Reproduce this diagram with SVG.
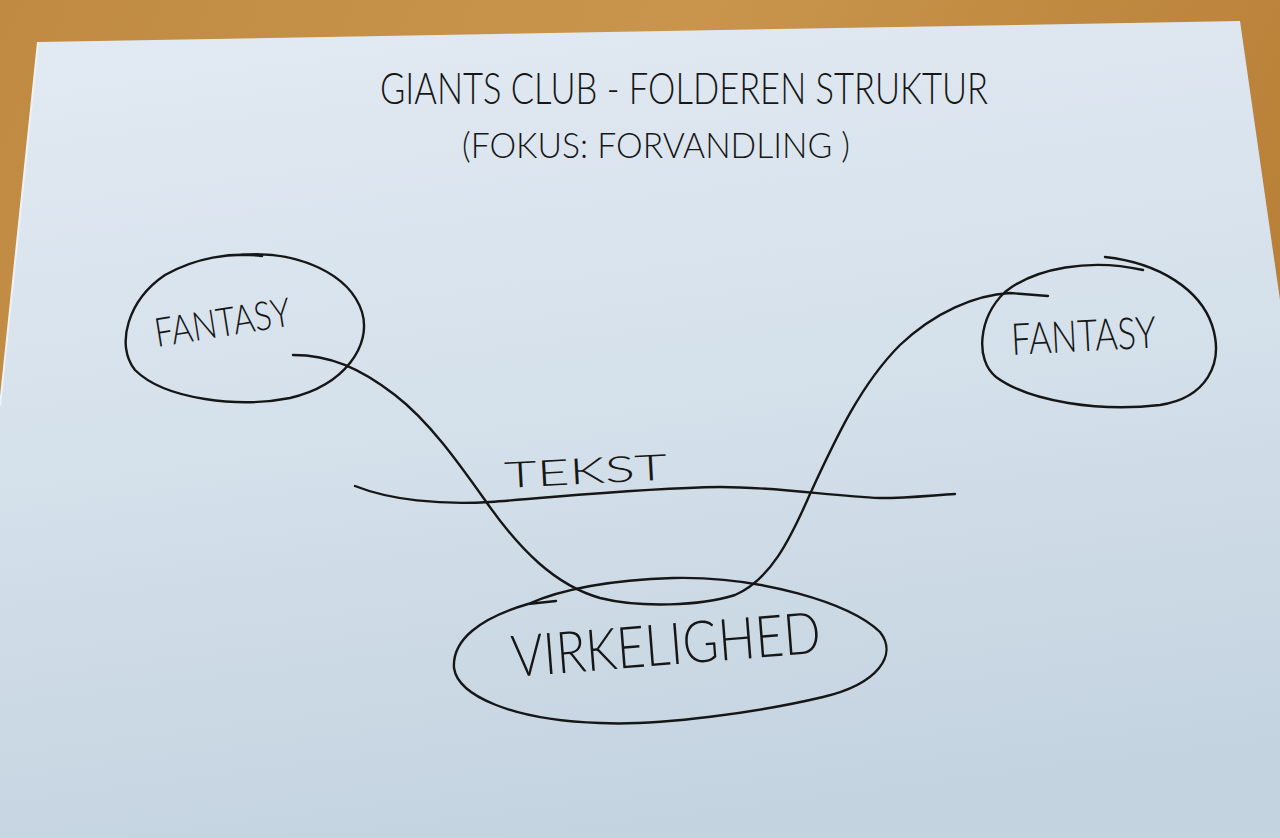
<svg xmlns="http://www.w3.org/2000/svg" width="1280" height="838" viewBox="0 0 1280 838">
<defs>
<linearGradient id="wood" x1="0" y1="0" x2="1" y2="0.3">
<stop offset="0" stop-color="#c08a42"/>
<stop offset="0.5" stop-color="#c9954c"/>
<stop offset="1" stop-color="#b98038"/>
</linearGradient>
<linearGradient id="paper" x1="0.3" y1="0" x2="0.5" y2="1">
<stop offset="0" stop-color="#e1e9f2"/>
<stop offset="0.5" stop-color="#d4e0ea"/>
<stop offset="1" stop-color="#c3d3e0"/>
</linearGradient>
<style>
.ink{fill:none;stroke:#161616;stroke-width:2.4;stroke-linecap:round;stroke-linejoin:round}
.hand{font-family:Lato,"Open Sans","DejaVu Sans",sans-serif;font-weight:300;fill:#161616}
</style>
</defs>
<rect x="0" y="0" width="1280" height="838" fill="url(#wood)"/>
<polygon points="38,42 1240,21 1280,300 1280,838 0,838 0,406" fill="url(#paper)"/>
<path d="M38 42 L0 406" stroke="#eef3f8" stroke-width="2" fill="none"/>

<g id="title">
<text class="hand" x="380" y="104" font-size="44" textLength="608" lengthAdjust="spacingAndGlyphs">GIANTS CLUB - FOLDEREN STRUKTUR</text>
<text class="hand" x="462" y="158" font-size="36" textLength="388" lengthAdjust="spacingAndGlyphs">(FOKUS: FORVANDLING )</text>
</g>

<g id="fantasy-left">
<path class="ink" d="M240 255 C300 250 350 275 362 312 C372 345 345 385 290 398 C240 408 165 400 135 370 C115 345 128 300 165 275 C195 258 230 252 262 256"/>
<text class="hand" x="157" y="347" font-size="40" textLength="137" lengthAdjust="spacingAndGlyphs" transform="rotate(-9 157 347)">FANTASY</text>
</g>

<g id="fantasy-right">
<path class="ink" d="M1105 257 C1160 263 1200 290 1212 325 C1225 365 1205 398 1160 405 C1100 412 1030 402 996 377 C975 360 978 318 1005 292 C1035 268 1090 258 1143 270"/>
<text class="hand" x="1012" y="355" font-size="44" textLength="145" lengthAdjust="spacingAndGlyphs" transform="rotate(-3 1012 355)">FANTASY</text>
</g>

<g id="tekst">
<path class="ink" d="M355 486 C390 500 440 505 490 502 C560 497 640 488 720 487 C780 487 830 496 880 498 C910 498 935 495 955 494"/>
<text class="hand" x="505" y="488" font-size="36" textLength="163" lengthAdjust="spacingAndGlyphs" transform="rotate(-3 505 488)">TEKST</text>
</g>

<g id="virkelighed">
<path class="ink" d="M528 604 C560 590 610 580 673 578 C760 576 850 603 880 632 C898 655 878 684 823 697 C760 712 660 726 600 723 C510 720 458 695 454 668 C452 640 480 618 528 604 L556 601"/>
<text class="hand" x="513" y="677" font-size="58" textLength="310" lengthAdjust="spacingAndGlyphs" transform="rotate(-4.5 513 677)">VIRKELIGHED</text>
</g>

<g id="connectors">
<path class="ink" d="M293 355 C330 355 360 368 395 395 C430 422 460 465 487 503 C520 550 555 585 600 598 C640 608 700 606 735 595 C770 580 790 540 810 494 C835 440 860 385 900 345 C935 312 975 295 1010 293 L1048 296"/>
</g>
</svg>
